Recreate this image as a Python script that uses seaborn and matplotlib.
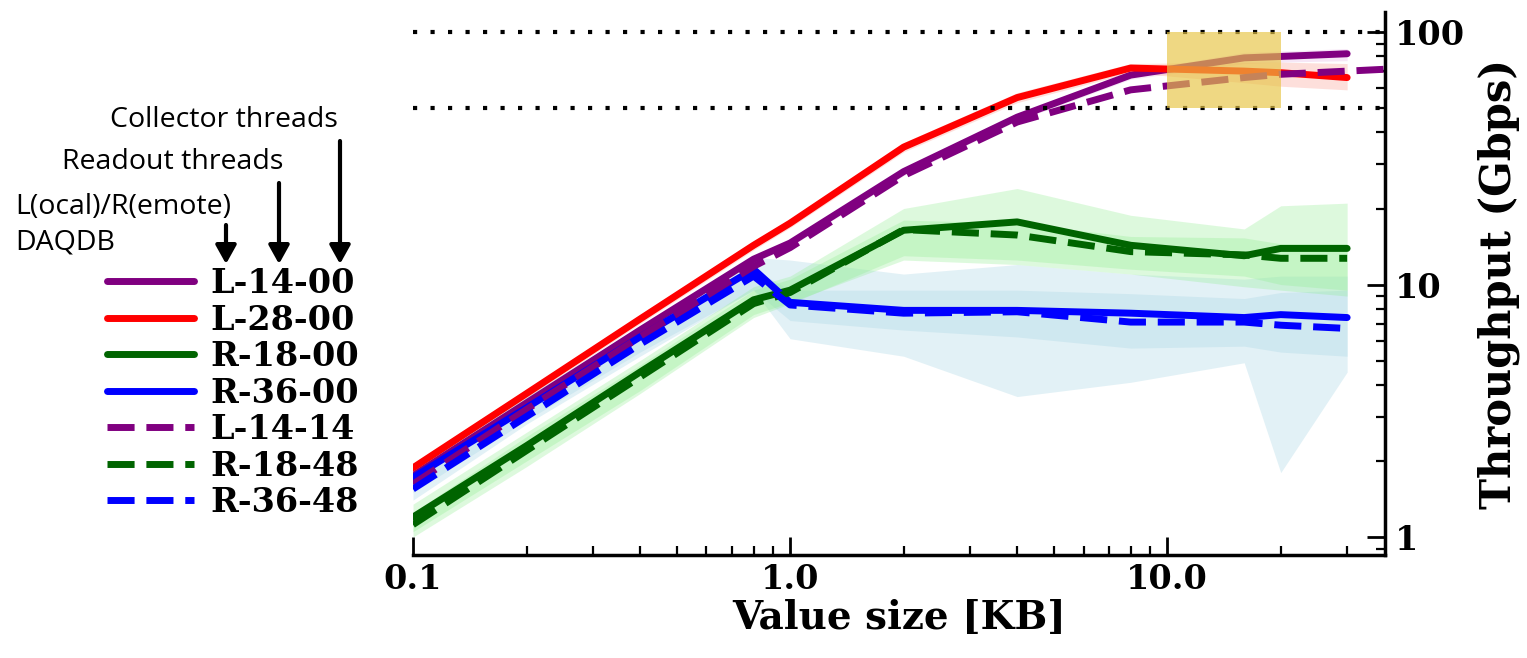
import matplotlib
matplotlib.use("Agg")
import numpy as np
import pandas as pd
import matplotlib.pyplot as plt
import seaborn as sns
from matplotlib.patches import Rectangle
from matplotlib.ticker import LogLocator, FormatStrFormatter, NullFormatter

# value sizes [KB]
sizes = [0.1, 0.2, 0.4, 0.8, 1.0, 2, 4, 8, 16, 20, 30]
sizes_long = [0.1, 0.2, 0.4, 0.8, 1.0, 2, 4, 8, 16, 20, 30, 40]

# throughput [Gbps] per configuration
l_14_00 = [1.75, 3.4, 6.6, 12.6, 14.6, 28, 46, 67.5, 79, 80, 82]
l_28_00 = [1.88, 3.7, 7.3, 14.3, 17.5, 35, 55, 72, 70, 69, 66]
r_18_00 = [1.2, 2.3, 4.5, 8.7, 9.5, 16.4, 17.7, 14.3, 13.0, 13.9, 13.9]
r_36_00 = [1.72, 3.25, 6.2, 11.5, 8.5, 7.9, 7.9, 7.7, 7.4, 7.6, 7.4]
l_14_14 = [1.62, 3.2, 6.2, 11.8, 14.0, 27, 44, 59, 66, 68, 70, 71.5]
r_18_48 = [1.12, 2.2, 4.3, 8.4, 9.3, 16.5, 15.7, 13.5, 13.1, 12.7, 12.7]
r_36_48 = [1.55, 3.0, 5.8, 10.8, 8.3, 7.7, 7.8, 7.1, 7.1, 6.9, 6.7]

# spread (min / max) bands
l_14_00_lo = [1.68, 3.3, 6.4, 12.2, 14.1, 27, 44.5, 65, 75, 76, 77]
l_14_00_hi = [1.82, 3.5, 6.8, 13.0, 15.1, 29, 47.5, 70, 83, 84, 86]
l_28_00_lo = [1.8, 3.55, 7.0, 13.7, 16.8, 33.5, 52.5, 69, 63, 61, 59]
l_28_00_hi = [1.96, 3.85, 7.6, 14.9, 18.2, 36.5, 57.5, 75, 76, 76, 75]
r_18_00_lo = [1.05, 2.0, 3.8, 7.6, 8.5, 12.5, 12.0, 11.0, 9.8, 9.5, 9.0]
r_18_00_hi = [1.35, 2.6, 5.0, 9.8, 10.8, 20.0, 24.0, 18.8, 16.6, 20.5, 21.0]
r_18_48_lo = [1.0, 1.9, 3.7, 7.4, 8.4, 13.0, 12.5, 11.5, 10.8, 10.0, 9.5]
r_18_48_hi = [1.25, 2.5, 4.8, 9.5, 10.5, 18.0, 17.5, 15.5, 15.3, 14.5, 14.5]
r_36_00_lo = [1.5, 2.9, 5.4, 9.5, 6.1, 5.2, 3.6, 4.1, 4.9, 1.8, 4.5]
r_36_00_hi = [1.85, 3.6, 6.8, 12.8, 12.5, 11.0, 12.0, 11.0, 10.5, 10.8, 10.8]
r_36_48_lo = [1.4, 2.8, 5.2, 9.5, 7.2, 6.6, 6.2, 5.6, 5.7, 5.4, 5.2]
r_36_48_hi = [1.65, 3.3, 6.3, 11.5, 9.5, 9.5, 9.5, 9.2, 8.8, 9.3, 9.5]

# line-rate references and highlighted region
ref_levels = [100, 50]
hl_x = (10, 20)
hl_y = (50, 100)

W, H = 1527, 658
sns.set_style("white")
plt.rcParams["font.family"] = ["DejaVu Serif"]
plt.rcParams["font.weight"] = "bold"
plt.rcParams["axes.labelweight"] = "bold"
plt.rcParams["text.color"] = "black"
plt.rcParams["axes.labelcolor"] = "black"
plt.rcParams["xtick.color"] = "black"
plt.rcParams["ytick.color"] = "black"

fig = plt.figure(figsize=(W / 100, H / 100), dpi=100)
ax = fig.add_axes([413 / W, 1 - 555 / H, (1385 - 413) / W, (555 - 12) / H])


def fx(x):
    return x / W


def fy(y):
    return 1 - y / H


# bands
bands = [
    (l_14_00_lo, l_14_00_hi, "plum", 0.25),
    (l_28_00_lo, l_28_00_hi, "salmon", 0.25),
    (r_36_00_lo, r_36_00_hi, "lightblue", 0.35),
    (r_36_48_lo, r_36_48_hi, "lightblue", 0.35),
    (r_18_00_lo, r_18_00_hi, "lightgreen", 0.3),
    (r_18_48_lo, r_18_48_hi, "lightgreen", 0.3),
]
for lo, hi, c, a in bands:
    ax.fill_between(sizes, lo, hi, color=c, alpha=a, lw=0, zorder=1)

series = [
    ("L-14-00", sizes, l_14_00, "purple", "-"),
    ("L-28-00", sizes, l_28_00, "red", "-"),
    ("R-18-00", sizes, r_18_00, "darkgreen", "-"),
    ("R-36-00", sizes, r_36_00, "blue", "-"),
    ("L-14-14", sizes_long, l_14_14, "purple", "--"),
    ("R-18-48", sizes, r_18_48, "darkgreen", "--"),
    ("R-36-48", sizes, r_36_48, "blue", "--"),
]
for name, xs, ys, c, ls in series:
    df = pd.DataFrame({"size": xs, "gbps": ys})
    sns.lineplot(data=df, x="size", y="gbps", ax=ax, color=c, lw=5,
                 label=name, errorbar=None, zorder=2)
    line = ax.get_lines()[-1]
    if ls == "--":
        line.set_dashes((3.9, 1.7))

for lvl in ref_levels:
    ax.axhline(lvl, color="black", lw=3, ls=(0, (1, 3.2)), zorder=3)

ax.add_patch(Rectangle((hl_x[0], hl_y[0]), hl_x[1] - hl_x[0], hl_y[1] - hl_y[0],
                       facecolor="#e8c547", alpha=0.67, edgecolor="none", zorder=4))

ax.set_xscale("log")
ax.set_yscale("log")
ax.set_xlim(0.1, 37.8)
ax.set_ylim(0.849, 120)

ax.set_xticks([0.1, 1, 10])
ax.xaxis.set_major_formatter(FormatStrFormatter("%.1f"))
ax.xaxis.set_minor_locator(LogLocator(subs=np.arange(2, 10)))
ax.xaxis.set_minor_formatter(NullFormatter())
ax.yaxis.tick_right()
ax.yaxis.set_label_position("right")
ax.set_yticks([1, 10, 100])
ax.yaxis.set_major_formatter(FormatStrFormatter("%d"))
ax.yaxis.set_minor_locator(LogLocator(subs=np.arange(2, 10)))
ax.yaxis.set_minor_formatter(NullFormatter())

ax.tick_params(axis="both", which="major", direction="in", length=13, width=2,
               labelsize=24, color="black")
ax.tick_params(axis="both", which="minor", direction="in", length=6.5, width=1.6,
               color="black")
ax.tick_params(axis="x", which="both", bottom=True, top=False)
ax.tick_params(axis="x", pad=6)
ax.tick_params(axis="y", which="both", left=False, right=True, pad=7)

for s in ["left", "top"]:
    ax.spines[s].set_visible(False)
for s in ["bottom", "right"]:
    ax.spines[s].set_linewidth(2.5)
    ax.spines[s].set_color("black")

ax.set_xlabel("Value size [KB]", fontsize=28, fontweight="bold", labelpad=2)
ax.set_ylabel("Throughput (Gbps)", fontsize=30, fontweight="bold", labelpad=9)

ax.legend(loc="upper left", bbox_to_anchor=(fx(107), fy(267)),
          bbox_transform=fig.transFigure, frameon=False, fontsize=24,
          handlelength=2.6, handletextpad=0.5, labelspacing=0.105,
          borderpad=0, borderaxespad=0)

# legend key annotations
notes = [("Collector threads", 110, 120), ("Readout threads", 62, 162),
         ("L(ocal)/R(emote)", 15, 207), ("DAQDB", 15, 242)]
for txt, x, y in notes:
    fig.text(fx(x), fy(y), txt, ha="left", va="center", fontsize=20.5,
             family="Open Sans", weight="normal")

arrows = [(226, 225), (279, 183), (340, 141)]
for x, y0 in arrows:
    ax.annotate("", xy=(fx(x), fy(264)), xytext=(fx(x), fy(y0)),
                xycoords="figure fraction", textcoords="figure fraction",
                arrowprops=dict(arrowstyle="-|>,head_length=0.45,head_width=0.25",
                                lw=3, color="black", shrinkA=0, shrinkB=0,
                                mutation_scale=25))

fig.savefig("out.png", dpi=100)
